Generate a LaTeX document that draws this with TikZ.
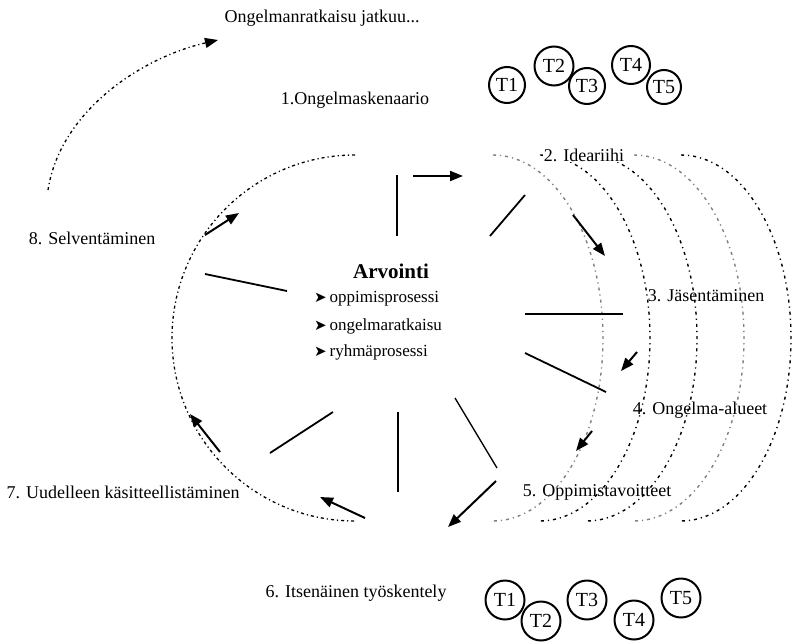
\documentclass[tikz,border=0pt]{standalone}
\usepackage{fontspec}
\setmainfont{Liberation Serif}
\newfontfamily\symfont{DejaVu Sans}
\usetikzlibrary{arrows.meta}
\begin{document}
\begin{tikzpicture}[x=1pt,y=-1pt,
  lbl/.style={font=\fontsize{18}{21}\selectfont, inner sep=1pt},
  item/.style={font=\fontsize{17}{20}\selectfont, inner sep=0pt, anchor=west},
  member/.style={circle, draw, fill=white, line width=2pt, inner sep=0pt,
                 minimum size=#1, font=\fontsize{20}{22}\selectfont},
  member/.default=37pt,
  spoke/.style={line width=1.8pt},
  flow/.style={line width=2pt, -{Triangle[length=13pt,width=10pt]}},
  cycleline/.style={line width=1.3pt, dash pattern=on 3pt off 3pt on 1.2pt off 3pt},
  phasedark/.style={line width=1.4pt, dash pattern=on 3pt off 4pt on 1.2pt off 4pt},
  phaselight/.style={phasedark, black!50},
]
\useasboundingbox (0,0) rectangle (794,642);

% left half of the problem-solving cycle
\draw[cycleline] (355,338) ++(270:183) arc[start angle=270, end angle=90, radius=183];

% the stacked right halves (phases 2-5)
\foreach \cx/\sty in {493/phaselight, 540/phasedark, 587/phasedark, 634/phaselight, 681/phasedark}
  \draw[\sty] (\cx,338) ++(270:183) arc[start angle=-90, end angle=90, x radius=110, y radius=183];

% continuation arrow
\coordinate (contstart) at (48,190);
\coordinate (contend) at (218,40);
\draw[cycleline, -{Triangle[length=13pt,width=10pt]}]
  (contstart) .. controls (60,112) and (140,58) .. (contend);

% labels
\node[lbl] (cont) at (322,18) {Ongelmanratkaisu jatkuu...};
\node[lbl] (p1) at (355,100) {1.Ongelmaskenaario};
\node[lbl, fill=white] (p2) at (584,155) {2. Ideariihi};
\node[lbl] (p3) at (706,296) {3. Jäsentäminen};
\node[lbl] (p4) at (700,410) {4. Ongelma-alueet};
\node[lbl] (p5) at (597,492) {5. Oppimistavoitteet};
\node[lbl] (p6) at (356,593) {6. Itsenäinen työskentely};
\node[lbl] (p7) at (123,492) {7. Uudelleen käsitteellistäminen};
\node[lbl] (p8) at (92,238) {8. Selventäminen};

% assessment in the middle
\node[font=\fontsize{21}{24}\selectfont\bfseries, inner sep=0pt] (arv) at (391,271) {Arvointi};
\node[item] (b1) at (314,299) {{\symfont\fontsize{15}{17}\selectfont ➤}\,oppimisprosessi};
\node[item] (b2) at (314,326) {{\symfont\fontsize{15}{17}\selectfont ➤}\,ongelmaratkaisu};
\node[item] (b3) at (314,352) {{\symfont\fontsize{15}{17}\selectfont ➤}\,ryhmäprosessi};

% spokes
\draw[spoke] (397,175) -- (397,236);
\draw[spoke] (490,236) -- (525,195);
\draw[spoke] (525,314) -- (623,314);
\draw[spoke] (525,353) -- (606,392);
\draw[line width=1.3pt] (455,398) -- (497,468);
\draw[spoke] (398,412) -- (398,492);
\draw[spoke] (270,453) -- (333,412);
\draw[spoke] (205,274) -- (287,291);

% direction of the cycle
\draw[flow] (413,176) -- (463,176);
\draw[flow] (573,215) -- (605,256);
\draw[flow] (637,352) -- (621,371);
\draw[flow] (592,431) -- (576,451);
\draw[flow] (496,481) -- (448,527);
\draw[flow] (365,518) -- (320,497);
\draw[flow] (220,452) -- (190,414);
\draw[flow] (205,235) -- (239,213);

% team members, top
\node[member=36pt] (ta1) at (507,85) {T1};
\node[member=39pt] (ta2) at (554,66) {T2};
\node[member=36pt] (ta3) at (587,86) {T3};
\node[member=38pt] (ta4) at (631,65) {T4};
\node[member=34pt] (ta5) at (664,87) {T5};

% team members, bottom
\node[member=39pt] (tb1) at (505,600) {T1};
\node[member=39pt] (tb2) at (541,621) {T2};
\node[member=39pt] (tb3) at (587,600) {T3};
\node[member=39pt] (tb4) at (634,620) {T4};
\node[member=39pt] (tb5) at (681,598) {T5};
\end{tikzpicture}
\end{document}
